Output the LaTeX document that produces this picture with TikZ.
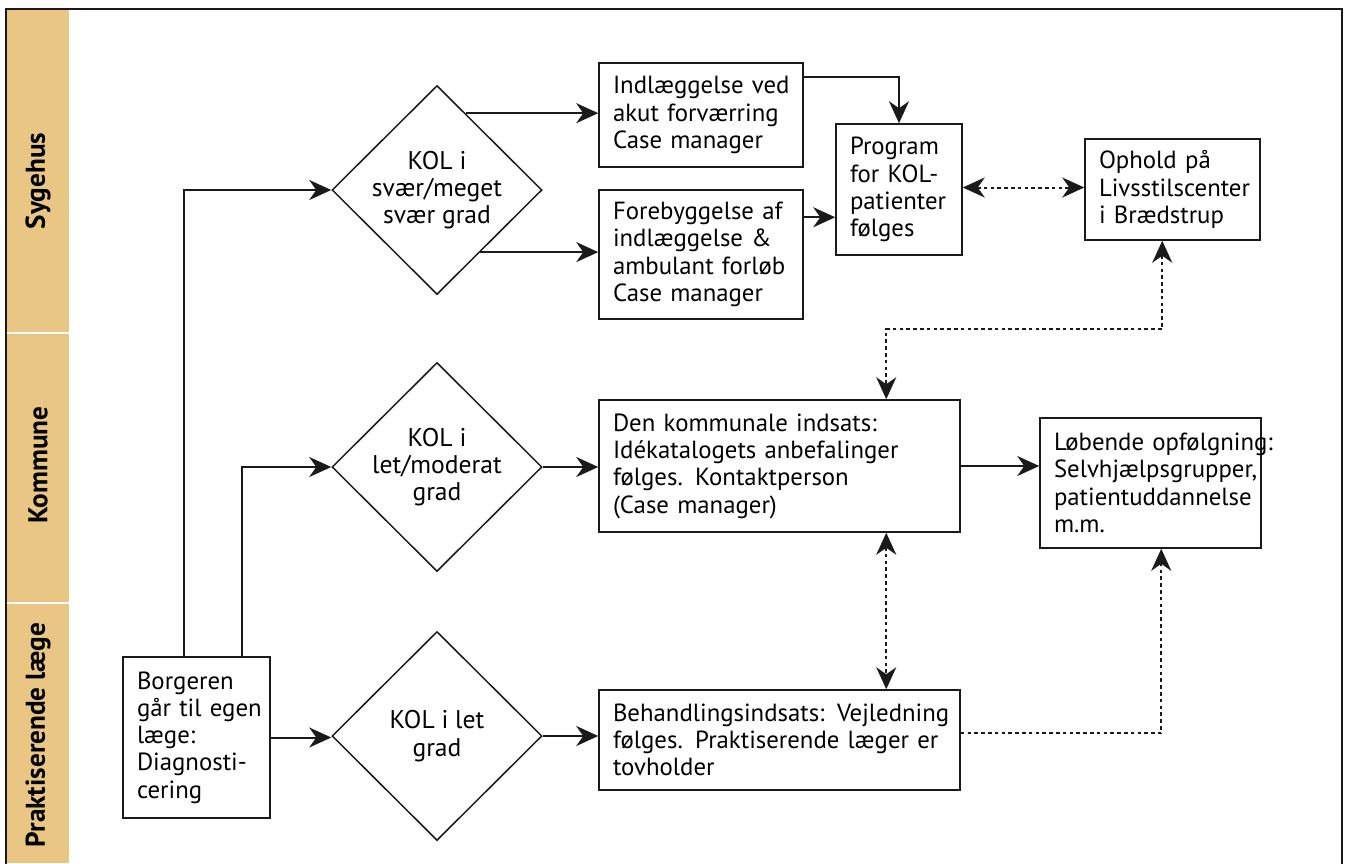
\documentclass[tikz,border=0pt]{standalone}
\usepackage{fontspec}
\setmainfont{PT Sans}
\usepackage{tikz}
\usetikzlibrary{calc,arrows.meta,shapes.geometric}
\definecolor{band}{HTML}{E9C684}
\definecolor{ink}{HTML}{1A1A1A}
\tikzset{
  head/.tip={Stealth[length=11pt,width=10pt,inset=3.5pt]},
  box/.style={draw=ink, line width=0.75pt, rectangle, inner xsep=7pt, inner ysep=0pt, align=left, font=\fontsize{12.4}{13.65}\selectfont},
  kol/.style={draw=ink, line width=0.75pt, diamond, aspect=1, inner sep=0pt, minimum width=105pt, minimum height=104.5pt, align=center, font=\fontsize{12.8}{13.65}\selectfont},
  arr/.style={draw=ink, line width=1pt, -{head}},
  dotarr/.style={draw=ink, line width=1pt, dash pattern=on 1.8pt off 1.6pt},
  lab/.style={rotate=90, font=\fontsize{13.6}{15}\selectfont\bfseries},
}

\begin{document}
\begin{tikzpicture}[x=0.5pt, y=-0.5pt]
  \useasboundingbox (0,0) rectangle (1350,863);

  % lanes
  \fill[band] (7,9) rectangle (69,863);
  \draw[white, line width=1pt] (7,333) -- (69,333);
  \draw[white, line width=1pt] (7,603) -- (69,603);
  \draw[ink, line width=1pt] (6,870) -- (6,9) -- (1342,9) -- (1342,870);
  \node[lab] (sygehus) at (38,181) {Sygehus};
  \node[lab] (kommunelab) at (38,465) {Kommune};
  \node[lab] (laege) at (38,735) {Praktiserende læge};

  % nodes
  \node[box, text width=59.5pt, minimum height=80.5pt] (borger) at (196.5,737.5)
    {Borgeren\\\mbox{går til egen}\\læge:\\Diagnosti-\\cering};
  \node[kol] (kol1) at (437,190) {KOL i\\svær/meget\\svær grad};
  \node[kol] (kol2) at (437,467) {KOL i\\let/moderat\\grad};
  \node[kol] (kol3) at (437,736) {KOL i let\\grad};
  \node[box, text width=88pt, minimum height=52pt] (indl) at (701,115)
    {\mbox{Indlæggelse ved}\\\mbox{akut forværring}\\\mbox{Case manager}};
  \node[box, text width=88pt, minimum height=64.5pt] (fore) at (701,254.5)
    {\mbox{Forebyggelse af}\\\mbox{indlæggelse \&}\\\mbox{ambulant forløb}\\\mbox{Case manager}};
  \node[box, text width=49pt, minimum height=65.5pt] (prog) at (899,189.5)
    {Program\\\mbox{for KOL-}\\patienter\\følges};
  \node[box, text width=73.5pt, minimum height=50.5pt] (ophold) at (1172.5,189.5)
    {\mbox{Ophold på}\\Livsstilscenter\\\mbox{i Brædstrup}};
  \node[box, text width=166.5pt, minimum height=66pt] (kommune) at (779.5,466)
    {\mbox{Den kommunale indsats:}\\\mbox{Idékatalogets anbefalinger}\\\mbox{følges. Kontaktperson}\\\mbox{(Case manager)}};
  \node[box, text width=96.5pt, minimum height=65pt] (lob) at (1150.5,483)
    {\mbox{Løbende opfølgning:}\\Selvhjælpsgrupper,\\patientuddannelse\\m.m.};
  \node[box, text width=166.5pt, minimum height=50pt] (behandl) at (779.5,740)
    {\mbox{Behandlingsindsats: Vejledning}\\\mbox{følges. Praktiserende læger er}\\tovholder};

  % bend points
  \coordinate (k1a) at ($(kol1.north)!0.27!(kol1.east)$);
  \coordinate (k1b) at ($(kol1.east)!0.59!(kol1.south)$);
  \coordinate (ia) at ($(indl.north east)+(0,15)$);
  \coordinate (fa) at ($(fore.north east)+(0,28)$);
  \coordinate (oa) at ($(ophold.south west)+(78,0)$);
  \coordinate (ka) at ($(kommune.north west)+(288,0)$);
  \coordinate (kb) at ($(kommune.south west)+(288,0)$);
  \coordinate (ba) at ($(behandl.north west)+(288,0)$);
  \coordinate (bb) at ($(behandl.east)+(0,-7)$);
  \coordinate (la) at ($(lob.south west)+(122,0)$);

  % connectors
  \draw[arr] ($(borger.north west)+(62,0)$) |- (kol1.west);
  \draw[arr] ($(borger.north west)+(120,0)$) |- (kol2.west);
  \draw[arr] (borger.east) -- (borger.east -| kol3.west);
  \draw[arr] (k1a) -- (k1a -| indl.west);
  \draw[arr] (k1b) -- (k1b -| fore.west);
  \draw[arr] (ia) -| (prog.north);
  \draw[arr] (fa) -- (fa -| prog.west);
  \draw[dotarr, {head}-{head}] ($(prog.east)+(0,-2)$) -- ($(ophold.west)+(0,-2)$);
  \draw[dotarr, {head}-{head}] (oa) |- ($(ka)+(0,-70)$) -- (ka);
  \draw[arr] (kol2.east) -- (kol2.east -| kommune.west);
  \draw[arr] (kommune.east) -- (kommune.east -| lob.west);
  \draw[dotarr, {head}-{head}] (kb) -- (ba);
  \draw[arr] (kol3.east) -- (kol3.east -| behandl.west);
  \draw[dotarr, -{head}] (bb) -| (la);
\end{tikzpicture}
\end{document}
